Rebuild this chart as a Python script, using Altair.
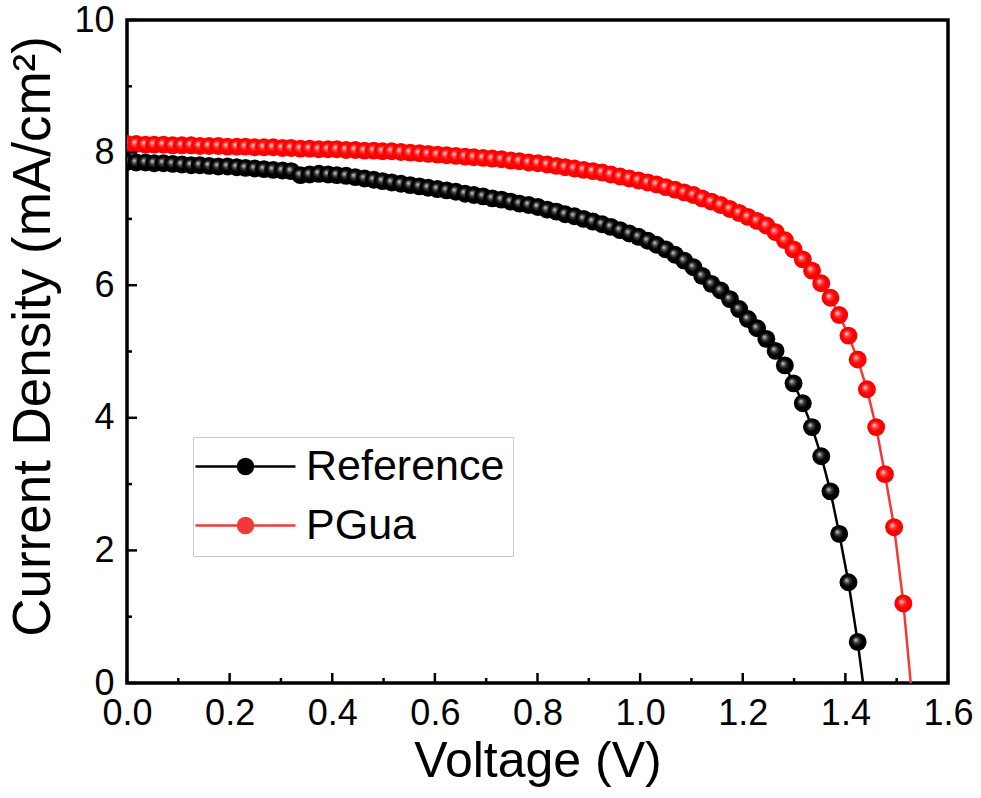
import altair as alt
import pandas as pd

series_names = ["Reference", "PGua"]

ref_v = [0.000, 0.018, 0.036, 0.053, 0.071, 0.089, 0.107, 0.125, 0.142, 0.160,
         0.178, 0.196, 0.214, 0.231, 0.249, 0.267, 0.285, 0.303, 0.320, 0.338,
         0.356, 0.374, 0.392, 0.409, 0.427, 0.445, 0.463, 0.481, 0.498, 0.516,
         0.534, 0.552, 0.570, 0.587, 0.605, 0.623, 0.641, 0.659, 0.676, 0.694,
         0.712, 0.730, 0.748, 0.765, 0.783, 0.801, 0.819, 0.837, 0.854, 0.872,
         0.890, 0.908, 0.926, 0.943, 0.961, 0.979, 0.997, 1.015, 1.032, 1.050,
         1.068, 1.086, 1.104, 1.121, 1.139, 1.157, 1.175, 1.193, 1.210, 1.228,
         1.246, 1.264, 1.282, 1.299, 1.317, 1.335, 1.353, 1.371, 1.388, 1.406,
         1.424, 1.442]
ref_j = [7.86, 7.85, 7.85, 7.84, 7.84, 7.83, 7.82, 7.81, 7.81, 7.80,
         7.79, 7.79, 7.78, 7.77, 7.76, 7.75, 7.74, 7.73, 7.72, 7.66,
         7.67, 7.68, 7.67, 7.66, 7.65, 7.63, 7.61, 7.59, 7.57, 7.55,
         7.53, 7.51, 7.49, 7.47, 7.45, 7.43, 7.41, 7.38, 7.36, 7.34,
         7.31, 7.29, 7.26, 7.23, 7.21, 7.18, 7.14, 7.11, 7.07, 7.04,
         7.00, 6.96, 6.92, 6.88, 6.83, 6.78, 6.73, 6.67, 6.61, 6.54,
         6.46, 6.37, 6.27, 6.14, 6.02, 5.92, 5.79, 5.64, 5.49, 5.35,
         5.19, 5.01, 4.79, 4.52, 4.22, 3.86, 3.42, 2.89, 2.25, 1.52,
         0.62, -0.45]

pg_v = [0.000, 0.018, 0.036, 0.053, 0.071, 0.089, 0.107, 0.125, 0.142, 0.160,
        0.178, 0.196, 0.214, 0.231, 0.249, 0.267, 0.285, 0.303, 0.320, 0.338,
        0.356, 0.374, 0.392, 0.409, 0.427, 0.445, 0.463, 0.481, 0.498, 0.516,
        0.534, 0.552, 0.570, 0.587, 0.605, 0.623, 0.641, 0.659, 0.676, 0.694,
        0.712, 0.730, 0.748, 0.765, 0.783, 0.801, 0.819, 0.837, 0.854, 0.872,
        0.890, 0.908, 0.926, 0.943, 0.961, 0.979, 0.997, 1.015, 1.032, 1.050,
        1.068, 1.086, 1.104, 1.121, 1.139, 1.157, 1.175, 1.193, 1.210, 1.228,
        1.246, 1.264, 1.282, 1.299, 1.317, 1.335, 1.353, 1.371, 1.388, 1.406,
        1.424, 1.442, 1.460, 1.477, 1.495, 1.513, 1.531]
pg_j = [8.13, 8.13, 8.12, 8.12, 8.12, 8.11, 8.11, 8.11, 8.10, 8.10,
        8.10, 8.09, 8.09, 8.09, 8.08, 8.08, 8.08, 8.07, 8.07, 8.06,
        8.06, 8.05, 8.05, 8.05, 8.04, 8.04, 8.03, 8.03, 8.02, 8.02,
        8.01, 8.00, 7.99, 7.98, 7.97, 7.96, 7.95, 7.94, 7.93, 7.92,
        7.91, 7.90, 7.88, 7.87, 7.85, 7.84, 7.82, 7.80, 7.78, 7.76,
        7.74, 7.72, 7.70, 7.67, 7.64, 7.61, 7.58, 7.55, 7.52, 7.48,
        7.44, 7.40, 7.36, 7.31, 7.26, 7.21, 7.15, 7.09, 7.03, 6.97,
        6.90, 6.80, 6.68, 6.54, 6.39, 6.22, 6.03, 5.81, 5.55, 5.24,
        4.88, 4.43, 3.86, 3.15, 2.35, 1.20, -0.30]

x_major = [0.0, 0.2, 0.4, 0.6, 0.8, 1.0, 1.2, 1.4, 1.6]
x_minor = [0.1, 0.3, 0.5, 0.7, 0.9, 1.1, 1.3, 1.5]
y_major = [0, 2, 4, 6, 8, 10]
y_minor = [1, 3, 5, 7, 9]

FONT = "Liberation Sans"
W, H = 821, 663
LINE_COLORS = ["#000000", "#f03a3a"]

df = pd.concat([
    pd.DataFrame({"v": ref_v, "j": ref_j, "series": series_names[0]}),
    pd.DataFrame({"v": pg_v, "j": pg_j, "series": series_names[1]}),
], ignore_index=True)

xs = alt.Scale(domain=[0, 1.6], nice=False, zero=False)
ys = alt.Scale(domain=[0, 10], nice=False, zero=False)

x_axis = alt.Axis(values=x_major, format=".1f", grid=False, ticks=False, tickSize=0,
                  domain=False, labelFont=FONT, labelFontSize=36, labelColor="black",
                  labelPadding=13, titleFont=FONT, titleFontSize=50,
                  titleFontWeight="normal", titleColor="black", titlePadding=5,
                  labelFlush=False)
y_axis = alt.Axis(values=y_major, format="d", grid=False, ticks=False, tickSize=0,
                  domain=False, labelFont=FONT, labelFontSize=36, labelColor="black",
                  labelPadding=13, titleFont=FONT, titleFontSize=53,
                  titleFontWeight="normal", titleColor="black", titlePadding=13,
                  titleY=316, labelFlush=False)

X = alt.X("v:Q", scale=xs, axis=x_axis, title="Voltage (V)")
Y = alt.Y("j:Q", scale=ys, axis=y_axis, title="Current Density (mA/cm²)")

legend = alt.Legend(
    title=None, orient="none", legendX=66, legendY=417, direction="vertical",
    symbolType="M-5,0L5,0M0.75,0A0.75,0.75,0,1,1,-0.75,0A0.75,0.75,0,1,1,0.75,0Z",
    symbolSize=400, symbolStrokeWidth=2.5, symbolOffset=23, labelOffset=39,
    symbolOpacity=1, labelLimit=600,
    labelFont=FONT, labelFontSize=43, labelColor="black",
    strokeColor="#cccccc", padding=8, rowPadding=15,
)
leg_scale = alt.Scale(domain=series_names, range=LINE_COLORS)

legend_layer = alt.Chart(df).mark_point(filled=True, size=0).encode(
    x=X, y=Y,
    fill=alt.Fill("series:N", scale=leg_scale, legend=legend),
    stroke=alt.Stroke("series:N", scale=leg_scale, legend=legend),
)


def line_layer(name, col):
    return alt.Chart(df).transform_filter(alt.datum.series == name).mark_line(
        strokeWidth=2.5, clip=True, color=col).encode(x=X, y=Y)


def sphere(hi, mid, base):
    return alt.RadialGradient(
        gradient="radial",
        stops=[alt.GradientStop(color=hi, offset=0),
               alt.GradientStop(color=mid, offset=0.3),
               alt.GradientStop(color=base, offset=0.6),
               alt.GradientStop(color=base, offset=1)],
        x1=0.38, y1=0.38, r1=0, x2=0.5, y2=0.5, r2=0.5)


def point_layer(name, grad):
    return alt.Chart(df).transform_filter(alt.datum.series == name).mark_circle(
        size=320, opacity=1, clip=True, fill=grad).encode(x=X, y=Y)


line_ref = line_layer(series_names[0], LINE_COLORS[0])
line_pg = line_layer(series_names[1], LINE_COLORS[1])
pts_ref = point_layer(series_names[0], sphere("#d8d8d8", "#404040", "#000000"))
pts_pg = point_layer(series_names[1], sphere("#ffe4e4", "#ff4040", "#ff0000"))

xmaj = alt.Chart(pd.DataFrame({"v": x_major})).mark_rule(color="black", strokeWidth=2.5).encode(
    x=X, y=alt.value(H), y2=alt.value(H - 10))
xmin = alt.Chart(pd.DataFrame({"v": x_minor})).mark_rule(color="black", strokeWidth=2.5).encode(
    x=X, y=alt.value(H), y2=alt.value(H - 5))
ymaj = alt.Chart(pd.DataFrame({"j": y_major})).mark_rule(color="black", strokeWidth=2.5).encode(
    y=Y, x=alt.value(0), x2=alt.value(10))
ymin = alt.Chart(pd.DataFrame({"j": y_minor})).mark_rule(color="black", strokeWidth=2.5).encode(
    y=Y, x=alt.value(0), x2=alt.value(5))

chart = alt.layer(legend_layer, line_ref, pts_ref, line_pg, pts_pg,
                  xmaj, xmin, ymaj, ymin).properties(
    width=W, height=H,
    autosize=alt.AutoSizeParams(type="none"),
    padding={"left": 127, "top": 20, "right": 33, "bottom": 115},
    background="white",
).configure_view(stroke="black", strokeWidth=3.5)

chart.save("out.html", embed_options={"renderer": "svg", "actions": False})
